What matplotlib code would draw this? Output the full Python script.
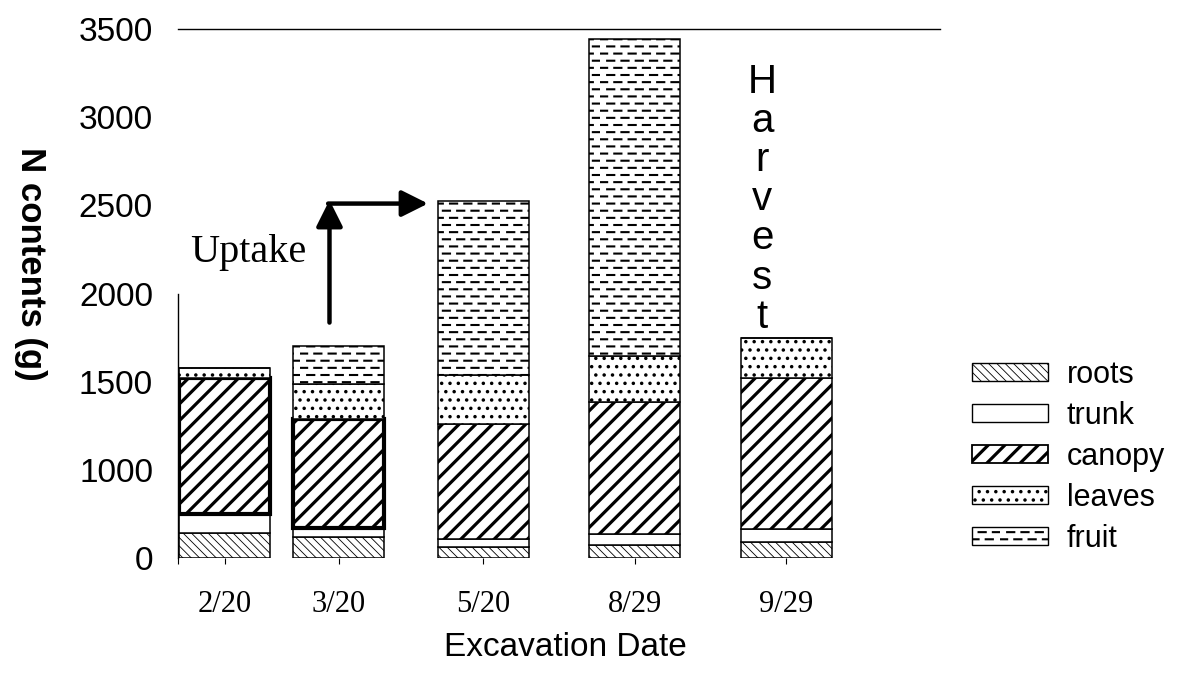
import numpy as np
import matplotlib
matplotlib.use('Agg')
import matplotlib.pyplot as plt
import matplotlib.hatch as mhatch
from matplotlib.path import Path
from matplotlib.patches import Rectangle

# ---------------- data ----------------
dates = ['2/20', '3/20', '5/20', '8/29', '9/29']
roots = [140, 120, 60, 75, 90]
trunk = [110, 50, 45, 60, 75]
canopy = [770, 620, 655, 750, 855]
leaves = [55, 195, 275, 260, 225]
fruit = [0, 220, 990, 1800, 0]
components = ['roots', 'trunk', 'canopy', 'leaves', 'fruit']
ytick_labels = ['0', '1000', '1500', '2000', '2500', '3000', '3500']

# ---------------- layout ----------------
xpos = [0, 1, 2.27, 3.6, 4.93]
bar_w = 0.8
ytick_pos = [0, 500, 1000, 1500, 2000, 2500, 3000]


# custom dashed-row hatch replacing the plain horizontal line hatch
class DashRowHatch(mhatch.HatchPatternBase):
    def __init__(self, hatch, density):
        n = hatch.count('-') + hatch.count('+')
        self.num_rows = 14 if n else 0
        self.num_dash = 7
        self.num_vertices = self.num_rows * self.num_dash * 2

    def set_vertices_and_codes(self, vertices, codes):
        period = 1.0 / self.num_dash
        dash = period * 0.5
        k = 0
        for i in range(self.num_rows):
            y = (i + 0.5) / self.num_rows
            off = (period / 2) * (i % 2)
            for j in range(self.num_dash):
                x0 = j * period + off
                vertices[k] = (x0, y)
                vertices[k + 1] = (x0 + dash, y)
                codes[k] = Path.MOVETO
                codes[k + 1] = Path.LINETO
                k += 2


for i, ht in enumerate(mhatch._hatch_types):
    if ht is mhatch.HorizontalHatch:
        mhatch._hatch_types[i] = DashRowHatch

plt.rcParams['font.family'] = ['Liberation Sans', 'DejaVu Sans']
plt.rcParams['hatch.color'] = 'black'

fig = plt.figure(figsize=(11.81, 6.73), dpi=100)
ax = fig.add_axes([178 / 1181, 1 - 558 / 673, 762 / 1181, 529 / 673])

styles = {
    'roots': dict(hatch='\\\\\\\\', hlw=0.6),
    'trunk': dict(hatch=None, hlw=1.0),
    'canopy': dict(hatch='//', hlw=2.3),
    'leaves': dict(hatch='..', hlw=1.3),
    'fruit': dict(hatch='-', hlw=1.5),
}
series = [roots, trunk, canopy, leaves, fruit]

bottom = np.zeros(len(dates))
handles = []
for name, vals in zip(components, series):
    st = styles[name]
    if name == 'canopy':
        lws = [3.0, 3.0, 1.1, 1.1, 1.1]
    else:
        lws = [1.1] * len(dates)
    with plt.rc_context({'hatch.linewidth': st['hlw']}):
        bars = ax.bar(xpos, vals, width=bar_w, bottom=bottom, facecolor='white',
                      edgecolor='black', hatch=st['hatch'], linewidth=lws, zorder=2)
        h = Rectangle((0, 0), 1, 1, facecolor='white', edgecolor='black',
                      hatch=st['hatch'], linewidth=1.3 if name == 'canopy' else 1.0)
    for b in list(bars) + [h]:
        if hasattr(b, 'set_hatch_linewidth'):
            b.set_hatch_linewidth(st['hlw'])
    handles.append(h)
    bottom += np.array(vals)

totals = bottom

ax.set_xlim(-0.41, 6.28)
ax.set_ylim(0, 3000)

ax.set_yticks(ytick_pos, ytick_labels)
ax.tick_params(axis='y', length=0, pad=18, labelsize=24)
ax.set_xticks(xpos, dates, fontfamily='Liberation Serif', fontsize=22)
ax.set_xticks([-0.41], minor=True)
ax.tick_params(axis='x', which='both', length=4, width=0.8, pad=19, direction='out')

for s in ['right', 'bottom']:
    ax.spines[s].set_visible(False)
ax.spines['top'].set_linewidth(1.0)
ax.spines['left'].set_linewidth(1.0)
ax.spines['left'].set_bounds(0, 1500)

ax.set_ylabel('N contents (g)', fontsize=25, fontweight='bold', rotation=270,
              va='center', ha='center')
ax.yaxis.set_label_coords(-0.194, 0.556)
ax.set_xlabel('Excavation Date', fontsize=24)
ax.xaxis.set_label_coords(0.508, -0.17)
ax.xaxis.label.set_va('center')

# arrows
ax_x = xpos[1] - 0.08
y_top = totals[2]
ax.annotate('', xy=(ax_x, y_top + 5), xytext=(ax_x, totals[1] + 130),
            arrowprops=dict(arrowstyle='-|>', lw=3.2, color='black',
                            mutation_scale=40, shrinkA=0, shrinkB=0), zorder=3)
ax.annotate('', xy=(xpos[2] - bar_w / 2 - 0.085, y_top - 15), xytext=(ax_x - 0.012, y_top - 15),
            arrowprops=dict(arrowstyle='-|>', lw=3.2, color='black',
                            mutation_scale=40, shrinkA=0, shrinkB=0), zorder=3)

ax.text(0.205, 1735, 'Uptake', fontsize=29, fontfamily='Liberation Serif',
        ha='center', va='center')

ax.text(xpos[4] - 0.21, totals[4] + 15, '\n'.join('Harvest'), fontsize=29,
        ha='center', va='bottom', multialignment='center', linespacing=1.04)

leg = fig.legend(handles, components, loc='center left',
                 bbox_to_anchor=(972 / 1181, 1 - 457 / 673), frameon=False,
                 fontsize=22, handlelength=2.5, handleheight=0.5,
                 handletextpad=0.6, labelspacing=0.36, borderpad=0, borderaxespad=0)
for p, st in zip(leg.get_patches(), [styles[c] for c in components]):
    if hasattr(p, 'set_hatch_linewidth'):
        p.set_hatch_linewidth(st['hlw'])

fig.savefig('out.png', dpi=100)
